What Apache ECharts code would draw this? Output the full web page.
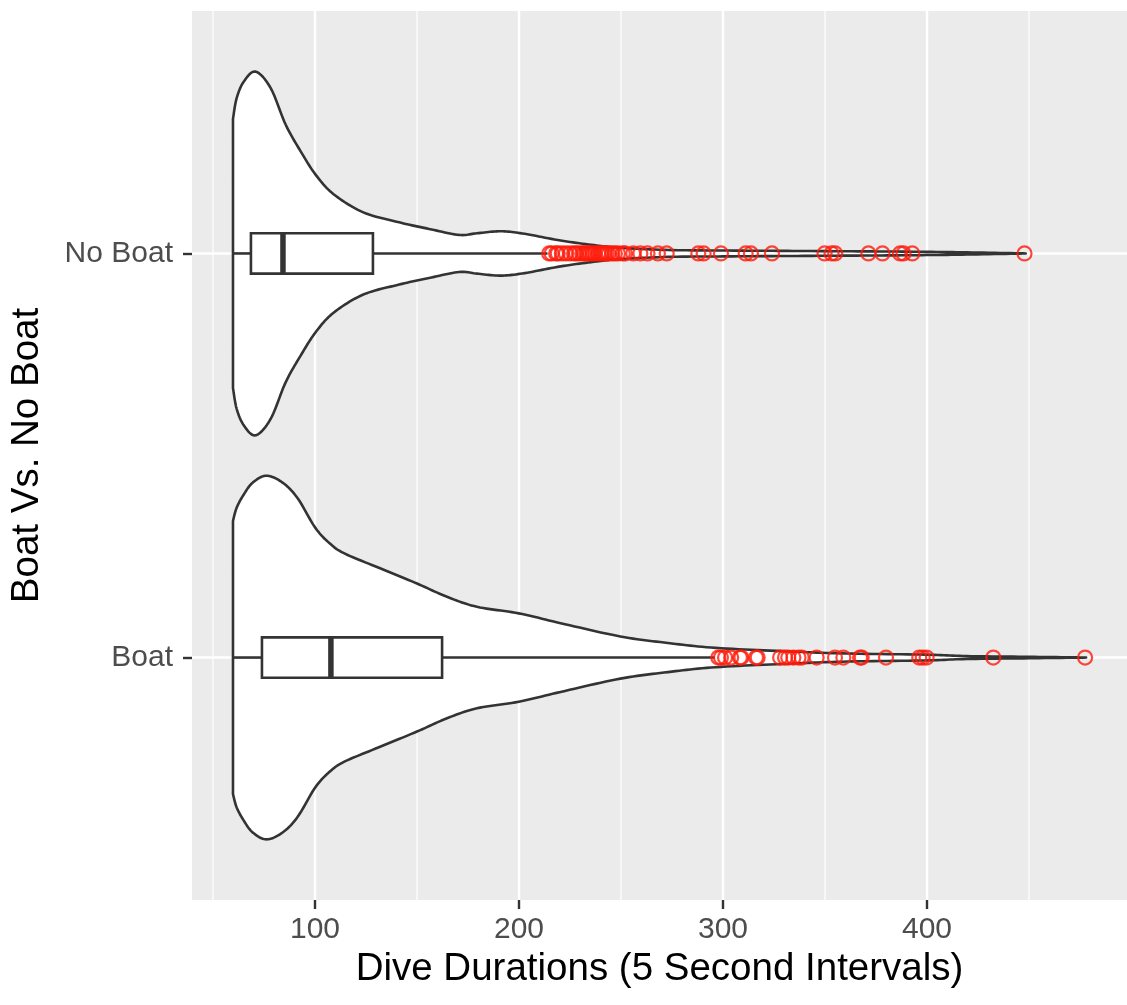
<!DOCTYPE html>
<html><head><meta charset="utf-8">
<script src="https://cdn.jsdelivr.net/npm/echarts@6/dist/echarts.min.js"></script>
<style>html,body{margin:0;padding:0;background:#fff}#c{width:1127px;height:1005px}</style>
</head><body><div id="c"></div>
<script>
// ---------- data ----------
const categories = ['Boat', 'No Boat'];
const xTicks = [100, 200, 300, 400];
const xMinorGrid = [50, 150, 250, 350, 450];

// violin outlines: duration value and relative density (1 = widest point)
const boatViolinX = [59.8, 61.6, 65.1, 69.5, 76.2, 84.1, 91.5, 100.2, 107.6, 114.9, 132.5, 150, 164.7, 179.4, 199.9, 220.4, 249.7, 273, 296.5, 331.7, 361, 399, 419.6, 450, 478];
const boatViolinD = [0.751, 0.824, 0.897, 0.962, 1.0, 0.962, 0.876, 0.713, 0.624, 0.570, 0.488, 0.407, 0.334, 0.279, 0.243, 0.189, 0.116, 0.080, 0.053, 0.034, 0.022, 0.016, 0.008, 0.004, 0];
const noBoatViolinX = [59.8, 61.6, 65.1, 70.9, 78.3, 85.6, 92.9, 100.2, 109.1, 123.7, 141.3, 155.9, 170.6, 179.4, 191.1, 202.8, 220.4, 238, 249.7, 273, 302.5, 331.7, 361, 390, 419.6, 448.4];
const noBoatViolinD = [0.740, 0.854, 0.945, 1.0, 0.909, 0.709, 0.563, 0.435, 0.326, 0.226, 0.171, 0.135, 0.102, 0.111, 0.122, 0.108, 0.071, 0.044, 0.031, 0.019, 0.016, 0.014, 0.012, 0.010, 0.006, 0];

// box statistics: lower whisker, Q1, median, Q3, upper whisker
const boatBox = [59.8, 74, 107.8, 162.3, 296];
const noBoatBox = [59.8, 68.6, 84.3, 128.4, 214];

const boatOutliers = [297.7, 299, 301, 304, 308.3, 309, 316.2, 317, 328, 330.4, 332, 334.5, 337, 338.6, 345.9, 354.9, 359, 367.2, 368, 379.9, 396.2, 397.9, 399.8, 432.5, 477.5];
const noBoatOutliers = [214.8, 216, 218.2, 219, 221, 223, 225.1, 227, 228, 229.5, 231, 232, 233, 234, 235, 236, 237, 238.8, 240, 241, 242, 243, 244, 245.7, 247, 248.5, 250.9, 252, 256, 259.5, 263, 268.1, 272.4, 287.9, 290.5, 299, 311.1, 313.7, 324, 349.8, 353.2, 355, 371.3, 378.2, 386.8, 388.5, 392.8, 447.8];

// ---------- drawing helpers ----------
function catmull(pts, n) {
  const out = [];
  for (let i = 0; i < pts.length - 1; i++) {
    const p0 = pts[Math.max(i - 1, 0)], p1 = pts[i], p2 = pts[i + 1], p3 = pts[Math.min(i + 2, pts.length - 1)];
    for (let k = 0; k < n; k++) {
      const t = k / n, t2 = t * t, t3 = t2 * t;
      const f = j => 0.5 * ((2 * p1[j]) + (-p0[j] + p2[j]) * t + (2 * p0[j] - 5 * p1[j] + 4 * p2[j] - p3[j]) * t2 + (-p0[j] + 3 * p1[j] - 3 * p2[j] + p3[j]) * t3);
      out.push([f(0), f(1)]);
    }
  }
  out.push(pts[pts.length - 1]);
  return out;
}

const LINE = '#333333';
const LW = 2.6;

function violinItem(xs, ds) {
  return function (params, api) {
    const yc = api.value(1);
    const band = api.size([0, 1])[1];
    const maxHalf = 0.45 * band;
    const cy = api.coord([xs[0], yc])[1];
    const pts = xs.map((v, i) => [api.coord([v, yc])[0], ds[i] * maxHalf]);
    const sm = catmull(pts, 12).map(p => [p[0], Math.max(0, p[1])]);
    const top = sm.map(p => [p[0], cy - p[1]]);
    const bot = sm.slice().reverse().map(p => [p[0], cy + p[1]]);
    return {
      type: 'polygon',
      shape: { points: top.concat(bot) },
      style: { fill: '#ffffff', stroke: LINE, lineWidth: LW, lineJoin: 'round' }
    };
  };
}

function boxItem(params, api) {
  const yc = api.value(0);
  const band = api.size([0, 1])[1];
  const half = 0.05 * band;
  const lo = api.coord([api.value(1), yc]);
  const q1 = api.coord([api.value(2), yc]);
  const md = api.coord([api.value(3), yc]);
  const q3 = api.coord([api.value(4), yc]);
  const hi = api.coord([api.value(5), yc]);
  const cy = lo[1];
  const ls = { stroke: LINE, lineWidth: LW };
  return {
    type: 'group',
    children: [
      { type: 'line', shape: { x1: lo[0], y1: cy, x2: q1[0], y2: cy }, style: ls },
      { type: 'line', shape: { x1: q3[0], y1: cy, x2: hi[0], y2: cy }, style: ls },
      { type: 'rect', shape: { x: q1[0], y: cy - half, width: q3[0] - q1[0], height: 2 * half }, style: { fill: '#ffffff', stroke: LINE, lineWidth: LW } },
      { type: 'line', shape: { x1: md[0], y1: cy - half, x2: md[0], y2: cy + half }, style: { stroke: LINE, lineWidth: 5.5 } }
    ]
  };
}

function gridItem(params, api) {
  const cs = params.coordSys;
  const kind = api.value(0), v = api.value(1), w = api.value(2);
  if (kind === 0) {
    const x = api.coord([v, 1])[0];
    return { type: 'line', shape: { x1: x, y1: cs.y, x2: x, y2: cs.y + cs.height }, style: { stroke: '#ffffff', lineWidth: w } };
  }
  const y = api.coord([100, v])[1];
  return { type: 'line', shape: { x1: cs.x, y1: y, x2: cs.x + cs.width, y2: y }, style: { stroke: '#ffffff', lineWidth: w } };
}

const gridData = []
  .concat(xMinorGrid.map(v => [0, v, 1.2]))
  .concat(xTicks.map(v => [0, v, 2.4]))
  .concat(categories.map((c, i) => [1, i + 1, 2.4]));

const FONT = '"Liberation Sans", Arial, Helvetica, sans-serif';

const chart = echarts.init(document.getElementById('c'), null, { renderer: 'canvas' });
chart.setOption({
  animation: false,
  backgroundColor: '#ffffff',
  grid: { left: 192, right: 0, top: 11, bottom: 105, show: true, backgroundColor: '#EBEBEB', borderWidth: 0 },
  xAxis: {
    type: 'value', min: 39.71, max: 498.04,
    name: 'Dive Durations (5 Second Intervals)', nameLocation: 'middle', nameGap: 50,
    nameTextStyle: { color: '#000000', fontSize: 38.5, fontFamily: FONT },
    axisLine: { show: false },
    axisTick: { show: true, customValues: xTicks, length: 9, lineStyle: { color: LINE, width: 2.4 } },
    axisLabel: { customValues: xTicks, color: '#4D4D4D', fontSize: 30, fontFamily: FONT, margin: 15 },
    splitLine: { show: false }, minorSplitLine: { show: false }
  },
  yAxis: {
    type: 'value', min: 0.4, max: 2.6,
    name: 'Boat Vs. No Boat', nameLocation: 'middle', nameGap: 145, nameRotate: 90,
    nameTextStyle: { color: '#000000', fontSize: 38.5, fontFamily: FONT },
    axisLine: { show: false },
    axisTick: { show: true, customValues: [1, 2], length: 9, lineStyle: { color: LINE, width: 2.4 } },
    axisLabel: { customValues: [1, 2], formatter: v => categories[Math.round(v) - 1], color: '#4D4D4D', fontSize: 30, fontFamily: FONT, margin: 19 },
    splitLine: { show: false }
  },
  series: [
    { type: 'custom', name: 'grid', z: 1, silent: true, renderItem: gridItem, encode: { x: 1 }, data: gridData },
    { type: 'custom', name: 'violinBoat', z: 2, silent: true, renderItem: violinItem(boatViolinX, boatViolinD), encode: { x: 0, y: 1 }, data: [[boatViolinX[0], 1]] },
    { type: 'custom', name: 'violinNoBoat', z: 2, silent: true, renderItem: violinItem(noBoatViolinX, noBoatViolinD), encode: { x: 0, y: 1 }, data: [[noBoatViolinX[0], 2]] },
    { type: 'custom', name: 'box', z: 3, silent: true, renderItem: boxItem, encode: { y: 0, x: [1, 2, 3, 4, 5] },
      data: [[1].concat(boatBox), [2].concat(noBoatBox)] },
    { type: 'scatter', name: 'outliers', z: 4, silent: true, symbol: 'circle', symbolSize: 14,
      itemStyle: { color: 'rgba(0,0,0,0)', borderColor: '#FF1A0A', borderWidth: 2.2 },
      data: boatOutliers.map(v => [v, 1]).concat(noBoatOutliers.map(v => [v, 2])) }
  ]
});
</script>
</body></html>
